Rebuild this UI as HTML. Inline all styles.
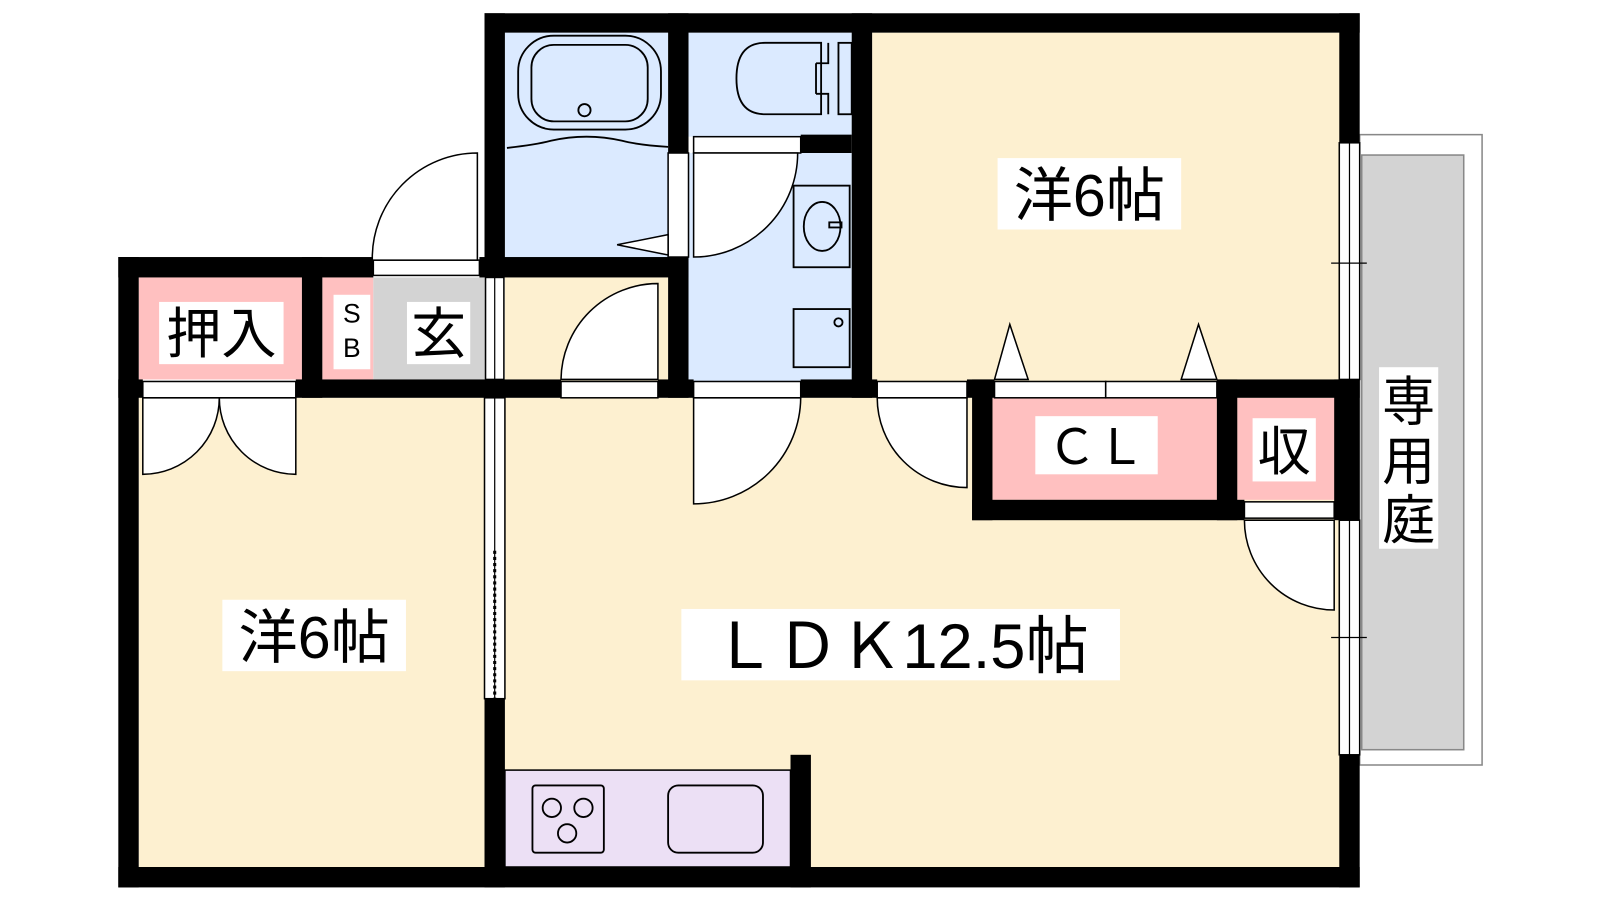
<!DOCTYPE html>
<html><head><meta charset="utf-8"><style>
html,body{margin:0;padding:0;background:#fff;}
svg{display:block}
text{font-family:"Liberation Sans","Noto Sans CJK JP",sans-serif;fill:#000}
</style></head><body>
<svg width="1600" height="900" viewBox="0 0 1568.6 882.35" preserveAspectRatio="none" xmlns="http://www.w3.org/2000/svg">
<rect x="1333" y="132" width="120" height="618" fill="#fff" stroke="#888" stroke-width="1.5"/>
<rect x="1335" y="152" width="100" height="583" fill="#d3d3d3" stroke="#888" stroke-width="1.5"/>
<rect x="136" y="390" width="340" height="462" fill="#fdf0d0"/>
<rect x="495" y="390" width="820" height="462" fill="#fdf0d0"/>
<rect x="855" y="32" width="460" height="342" fill="#fdf0d0"/>
<rect x="495" y="272" width="160" height="102" fill="#fdf0d0"/>
<rect x="495" y="32" width="160" height="222" fill="#dbeaff"/>
<rect x="675" y="32" width="160" height="102" fill="#dbeaff"/>
<rect x="675" y="150" width="160" height="224" fill="#dbeaff"/>
<rect x="136" y="272" width="160" height="100" fill="#ffc0c0"/>
<rect x="316" y="272" width="50" height="100" fill="#ffc0c0"/>
<rect x="366" y="272" width="110" height="100" fill="#d3d3d3"/>
<rect x="973" y="390" width="220" height="100" fill="#ffc0c0"/>
<rect x="1213" y="390" width="100" height="100" fill="#ffc0c0"/>
<rect x="495" y="755" width="280" height="95" fill="#ece0f5" stroke="#000" stroke-width="1.5"/>
<g fill="#000">
<rect x="475" y="13" width="858" height="19"/>
<rect x="475" y="13" width="20" height="259"/>
<rect x="116" y="252" width="250" height="20"/>
<rect x="470" y="252" width="205" height="20"/>
<rect x="116" y="252" width="20" height="618"/>
<rect x="116" y="850" width="1217" height="20"/>
<rect x="1313" y="13" width="20" height="127"/>
<rect x="1313" y="740" width="20" height="130"/>
<rect x="655" y="13" width="20" height="137"/>
<rect x="785" y="132" width="50" height="18"/>
<rect x="835" y="13" width="20" height="377"/>
<rect x="296" y="252" width="20" height="138"/>
<rect x="116" y="372" width="24" height="18"/>
<rect x="290" y="372" width="260" height="18"/>
<rect x="645" y="372" width="35" height="18"/>
<rect x="785" y="372" width="75" height="18"/>
<rect x="948" y="372" width="27" height="18"/>
<rect x="953" y="372" width="20" height="138"/>
<rect x="953" y="490" width="267" height="20"/>
<rect x="1193" y="372" width="140" height="18"/>
<rect x="1193" y="372" width="20" height="138"/>
<rect x="1308" y="372" width="25" height="138"/>
<rect x="475" y="685" width="20" height="185"/>
<rect x="775" y="740" width="20" height="130"/>
<rect x="655" y="252" width="20" height="138"/>
</g>
<g fill="#fff" stroke="#000" stroke-width="1.5">
<rect x="1313" y="140" width="20" height="232"/>
<rect x="1313" y="510" width="20" height="230"/>
<rect x="475" y="390" width="20" height="295"/>
<rect x="476" y="272" width="18" height="100"/>
<rect x="655" y="150" width="20" height="102"/>
</g>
<g stroke="#000" stroke-width="1.2">
<line x1="1323" y1="140" x2="1323" y2="372"/><line x1="1323" y1="510" x2="1323" y2="740"/>
<line x1="1305" y1="258" x2="1340" y2="258"/><line x1="1305" y1="625" x2="1340" y2="625"/>
<line x1="485" y1="390" x2="485" y2="685"/>
<line x1="485" y1="272" x2="485" y2="372"/>
</g>
<line x1="485" y1="540" x2="485" y2="685" stroke="#000" stroke-width="3" stroke-dasharray="3,3"/>
<g fill="#fff" stroke="#000" stroke-width="1.5">
<rect x="366" y="255" width="104" height="15"/>
<rect x="140" y="374" width="150" height="16"/>
<rect x="550" y="374" width="95" height="16"/>
<rect x="680" y="374" width="105" height="16"/>
<rect x="860" y="374" width="88" height="16"/>
<rect x="975" y="374" width="109" height="16"/>
<rect x="1084" y="374" width="109" height="16"/>
<rect x="680" y="134" width="105" height="16"/>
<rect x="1220" y="492" width="88" height="16"/>
<path d="M468 150 L468 255 L365 255 A103 103 0 0 1 468 150 Z"/>
<path d="M645 278 L645 372 L550 372 A95 95 0 0 1 645 278 Z"/>
<path d="M680 150 L782 150 A102 102 0 0 1 680 252 Z"/>
<path d="M680 390 L785 390 A105 105 0 0 1 680 494 Z"/>
<path d="M948 390 L948 478 A88 88 0 0 1 860 390 Z"/>
<path d="M1308 510 L1308 598 A88 88 0 0 1 1220 510 Z"/>
<path d="M140 390 L140 465 A75 75 0 0 0 215 390 Z"/>
<path d="M290 390 L290 465 A75 75 0 0 1 215 390 Z"/>
<path d="M975 372 L990 318 L1008 372 Z"/>
<path d="M1158 372 L1175 318 L1193 372 Z"/>
<path d="M655 230 L605 240 L655 250 Z"/>
</g>
<g fill="none" stroke="#000" stroke-width="1.8">
<rect x="508" y="35" width="140" height="92" rx="35"/>
<rect x="521" y="44" width="114" height="75" rx="22"/>
<circle cx="573" cy="108" r="6"/>
<path d="M497 145 Q 525 142 540 138 Q 575 130 610 138 Q 625 142 655 144"/>
<path d="M750 42 L805 42 L805 112 L750 112 Q 722 112 722 77 Q 722 42 750 42 Z"/>
<path d="M800 62 L812 62 L812 42 M800 92 L812 92 L812 112 M800 62 L800 92"/>
<rect x="822" y="42" width="13" height="70"/>
<rect x="778" y="182" width="55" height="80"/>
<ellipse cx="806" cy="222" rx="18" ry="24"/>
<rect x="813" y="218" width="12" height="5"/>
<rect x="778" y="303" width="55" height="57"/>
<circle cx="822" cy="316" r="4"/>
<rect x="522" y="770" width="70" height="66" rx="3"/>
<circle cx="541" cy="792" r="9"/><circle cx="572" cy="792" r="9"/><circle cx="556" cy="817" r="9"/>
<rect x="655" y="770" width="93" height="66" rx="10"/>
</g>
<g fill="#fff">
<rect x="978" y="155" width="180" height="70"/>
<rect x="218" y="588" width="180" height="70"/>
<rect x="668" y="597" width="430" height="70"/>
<rect x="1015" y="408" width="120" height="57"/>
<rect x="1228" y="410" width="62" height="62"/>
<rect x="1352" y="360" width="58" height="178"/>
<rect x="156" y="296" width="122" height="61"/>
<rect x="327" y="289" width="36" height="73"/>
<rect x="399" y="296" width="62" height="61"/>
</g>
<text x="1068" y="212" font-size="58" text-anchor="middle">洋6帖</text>
<text x="308" y="645" font-size="58" text-anchor="middle">洋6帖</text>
<text x="883" y="655" font-size="62" text-anchor="middle">ＬＤＫ12.5帖</text>
<text x="1075" y="455" font-size="48" text-anchor="middle">ＣＬ</text>
<text x="1259" y="461" font-size="52" text-anchor="middle">収</text>
<text x="1381" y="412" font-size="52" text-anchor="middle">専</text>
<text x="1381" y="470" font-size="52" text-anchor="middle">用</text>
<text x="1381" y="528" font-size="52" text-anchor="middle">庭</text>
<text x="217" y="346" font-size="54" text-anchor="middle">押入</text>
<text x="345" y="316" font-size="26" text-anchor="middle">S</text>
<text x="345" y="350" font-size="26" text-anchor="middle">B</text>
<text x="430" y="346" font-size="54" text-anchor="middle">玄</text>
</svg>
</body></html>
